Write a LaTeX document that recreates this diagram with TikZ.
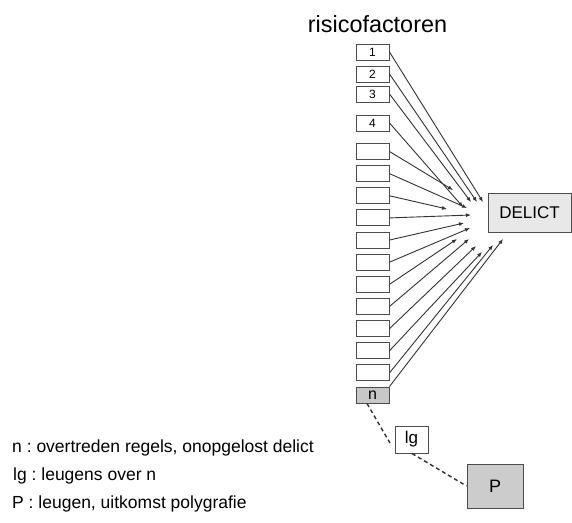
\documentclass[tikz,border=0pt]{standalone}
\usepackage{fontspec}
\setmainfont{Liberation Sans}
\usetikzlibrary{arrows.meta}
\frenchspacing
\begin{document}
\begin{tikzpicture}[x=1pt,y=-1pt,
  fbox/.style={draw=black!70,line width=1pt,fill=white,minimum width=33pt,minimum height=16pt,inner sep=0pt,font=\fontsize{12}{12}\selectfont},
  arr/.style={draw=black!80,line width=0.9pt,-{Latex[length=5pt,width=4pt]}},
  dashline/.style={draw=black!80,line width=1.4pt,dash pattern=on 4pt off 3pt},
  legend/.style={anchor=base west,inner sep=0pt,font=\fontsize{17.5}{17.5}\selectfont}]
\useasboundingbox (0,0) rectangle (572,522);
% title
\node[anchor=base,inner sep=0pt,font=\fontsize{23.4}{23.4}\selectfont] (title) at (377.5,32) {risicofactoren};
% factor boxes
\node[fbox] (b1) at (372.5,52) {1};
\node[fbox] (b2) at (372.5,74) {2};
\node[fbox] (b3) at (372.5,94) {3};
\node[fbox] (b4) at (372.5,123) {4};
\foreach \i [evaluate=\i as \yy using {151.5+22.14*(\i-5)}] in {5,...,15}{
  \node[fbox] (b\i) at (372.5,\yy) {};
}
\node[fbox,fill=black!22,font=\fontsize{16}{16}\selectfont] (b16) at (372.5,395) {\raisebox{-3pt}{n}};
% DELICT
\node[draw=black!70,line width=1pt,fill=black!9,minimum width=83pt,minimum height=39pt,inner sep=0pt,font=\fontsize{17}{17}\selectfont] (delict) at (529.5,212.5) {DELICT};
% arrow tips
\coordinate (t1) at (483,202);
\coordinate (t2) at (477,202);
\coordinate (t3) at (471,202);
\coordinate (t4) at (463,207);
\coordinate (t5) at (453,190);
\coordinate (t6) at (467,208);
\coordinate (t7) at (447,209);
\coordinate (t8) at (471,215);
\coordinate (t9) at (464,223);
\coordinate (t10) at (470,228);
\coordinate (t11) at (457,239);
\coordinate (t12) at (469,239);
\coordinate (t13) at (476,246);
\coordinate (t14) at (482,252);
\coordinate (t15) at (493,245);
\coordinate (t16) at (503,239);
\foreach \i in {1,...,15}{
  \draw[arr] (b\i.east) -- (t\i);
}
\draw[arr] (b16.north east) -- (t16);
% lower part
\node[draw=black!70,line width=1pt,fill=white,minimum width=33pt,minimum height=27pt,inner sep=0pt,font=\fontsize{17}{17}\selectfont] (lg) at (411.5,439.5) {lg};
\node[draw=black!70,line width=1pt,fill=black!20,minimum width=56pt,minimum height=44pt,inner sep=0pt,font=\fontsize{18}{18}\selectfont] (P) at (495,486) {P};
\coordinate (lgA) at (390,443);
\draw[dashline] ([xshift=-5.5pt]b16.south) -- (lgA);
\draw[dashline] ([xshift=0.5pt]lg.south) -- (P.west);
% legend
\node[legend] (l1) at (12,452) {n : overtreden regels, onopgelost delict};
\node[legend] (l2) at (13,480) {lg : leugens over n};
\node[legend] (l3) at (12,508) {P : leugen, uitkomst polygrafie};
\end{tikzpicture}
\end{document}
